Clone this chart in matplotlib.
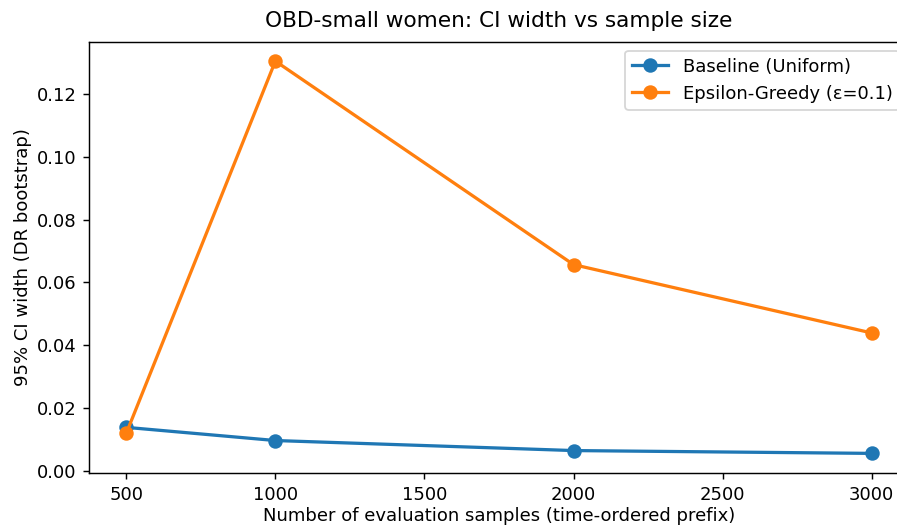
import matplotlib
matplotlib.use("Agg")
import matplotlib.pyplot as plt

sample_sizes = [500, 1000, 2000, 3000]
baseline_ci = [0.0138, 0.0096, 0.0064, 0.0055]
egreedy_ci = [0.0119, 0.1306, 0.0657, 0.0439]
labels = ["Baseline (Uniform)", "Epsilon-Greedy (ε=0.1)"]

dpi = 130
fig = plt.figure(figsize=(897 / dpi, 525 / dpi), dpi=dpi)
ax = fig.add_axes([89 / 897, (525 - 473) / 525, (909 - 89) / 897, (473 - 41.5) / 525])
ax.plot(sample_sizes, baseline_ci, marker="o", markersize=7, linewidth=1.8,
        label=labels[0], color="#1f77b4")
ax.plot(sample_sizes, egreedy_ci, marker="o", markersize=7, linewidth=1.8,
        label=labels[1], color="#ff7f0e")
ax.set_title("OBD-small women: CI width vs sample size", pad=8)
ax.set_xlabel("Number of evaluation samples (time-ordered prefix)", labelpad=1.8)
ax.set_ylabel("95% CI width (DR bootstrap)", labelpad=2.5)
ax.legend(loc="upper right")
fig.savefig("out.png", dpi=dpi)
